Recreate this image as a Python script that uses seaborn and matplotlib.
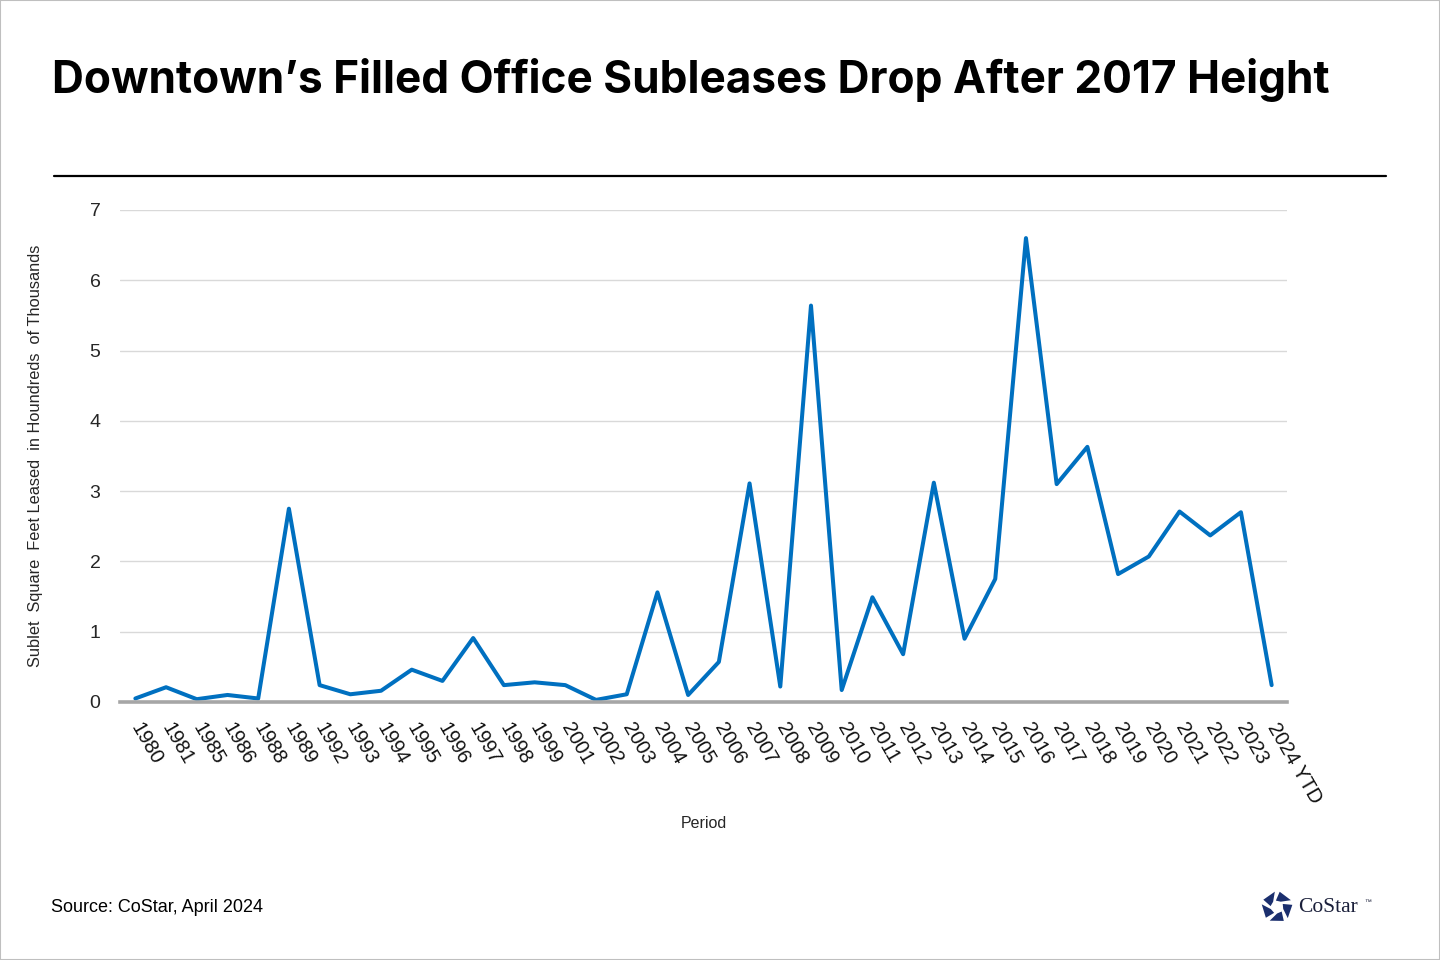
import numpy as np
import pandas as pd
import matplotlib
matplotlib.use("Agg")
import matplotlib.pyplot as plt
from matplotlib.patches import Rectangle, Polygon
import seaborn as sns

periods = ["1980", "1981", "1985", "1986", "1988", "1989", "1992", "1993", "1994",
           "1995", "1996", "1997", "1998", "1999", "2001", "2002", "2003", "2004",
           "2005", "2006", "2007", "2008", "2009", "2010", "2011", "2012", "2013",
           "2014", "2015", "2016", "2017", "2018", "2019", "2020", "2021", "2022",
           "2023", "2024 YTD"]
sublet_values = [0.05, 0.21, 0.04, 0.10, 0.05, 2.75, 0.24, 0.11, 0.16,
                 0.46, 0.30, 0.91, 0.24, 0.28, 0.24, 0.03, 0.11, 1.56,
                 0.10, 0.57, 3.11, 0.22, 5.64, 0.17, 1.49, 0.68, 3.12,
                 0.90, 1.75, 6.60, 3.10, 3.63, 1.82, 2.07, 2.71, 2.37,
                 2.70, 0.24]
y_ticks = [0, 1, 2, 3, 4, 5, 6, 7]

df = pd.DataFrame({"Period": periods, "Value": sublet_values})

sns.set_theme(style="white")
plt.rcParams['font.family'] = ['Liberation Sans', 'DejaVu Sans']

fig = plt.figure(figsize=(14.4, 9.6), dpi=100)
fig.patch.set_facecolor("white")
ax = fig.add_axes([120/1440, 1 - 702/960, (1287-120)/1440, (702-210)/960])

sns.lineplot(data=df, x="Period", y="Value", ax=ax, color="#0070c0",
             linewidth=2.9, sort=False)

n = len(periods)
ax.set_xlim(-0.5, n - 0.5)
ax.set_ylim(0, 7)
ax.set_yticks(y_ticks)
ax.set_yticklabels([str(t) for t in y_ticks], fontsize=14, color="#262626")
ax.yaxis.grid(True, color="#d9d9d9", linewidth=1)
ax.xaxis.grid(False)
ax.set_axisbelow(True)

ax.set_xticks(range(n))
ax.set_xticklabels(periods, fontsize=14.5, color="#111111")
ax.set_xticks(np.arange(-0.5, n, 1.0), minor=True)
ax.tick_params(axis="x", which="major", direction="in", length=4, width=2,
               color="#a6a6a6", pad=16)
ax.tick_params(axis="x", which="minor", direction="inout", length=13, width=2,
               color="#a6a6a6")
ax.tick_params(axis="y", length=0, pad=14)
for lbl in ax.get_xticklabels():
    lbl.set_rotation(-60)
    lbl.set_rotation_mode("anchor")
    lbl.set_ha("left")
    lbl.set_va("center")

for s in ["top", "right", "left"]:
    ax.spines[s].set_visible(False)
ax.spines["bottom"].set_color("#a6a6a6")
ax.spines["bottom"].set_linewidth(2.6)
ax.set_xlabel("")
ax.set_ylabel("")

# texts
fig.text(52/1440, 1 - 80/960, "Downtown\u2019s Filled Office Subleases Drop After 2017 Height",
         fontsize=31.8, fontweight="bold", family=["Inter", "DejaVu Sans"],
         ha="left", va="center", color="black")
fig.add_artist(plt.Line2D([54/1440, 1386/1440], [1 - 176/960, 1 - 176/960],
                          color="black", linewidth=1.6, transform=fig.transFigure))
fig.text(36/1440, 1 - 456/960,
         "Sublet  Square  Feet Leased  in Houndreds  of Thousands",
         rotation=90, fontsize=11.8, ha="center", va="center", color="#262626")
fig.text(704/1440, 1 - 824/960, "Period", fontsize=11.5, ha="center", va="center",
         color="#262626")
fig.text(51/1440, 1 - 907/960, "Source: CoStar, April 2024", fontsize=13,
         ha="left", va="center", color="black")

# CoStar logo
navy = "#1b2f6e"
cx, cy, rin, rout = 1277, 907, 6.5, 15.5
for k in range(5):
    a0 = np.deg2rad(90 + k * 72 + 8)
    a1 = np.deg2rad(90 + k * 72 + 62)
    pts = [(cx + rin * np.cos(a0 + 0.5), cy - rin * np.sin(a0 + 0.5)),
           (cx + rout * np.cos(a0), cy - rout * np.sin(a0)),
           (cx + rout * np.cos(a1), cy - rout * np.sin(a1)),
           (cx + rin * np.cos(a1 + 0.35), cy - rin * np.sin(a1 + 0.35))]
    pts = [(x / 1440, 1 - y / 960) for x, y in pts]
    fig.add_artist(Polygon(pts, closed=True, facecolor=navy, edgecolor="none",
                           transform=fig.transFigure))
fig.text(1298/1440, 1 - 908/960, "CoStar", fontsize=15.5,
         family=["Liberation Serif", "DejaVu Serif"], ha="left", va="center",
         color="#1a1f3a")
fig.text(1364/1440, 1 - 903/960, "\u2122", fontsize=5, ha="left", va="center",
         color="#1a1f3a")

# border
fig.add_artist(Rectangle((0, 0), 1, 1, transform=fig.transFigure, fill=False,
                         edgecolor="#bfbfbf", linewidth=1.5))

fig.savefig("out.png", dpi=100, facecolor="white")
